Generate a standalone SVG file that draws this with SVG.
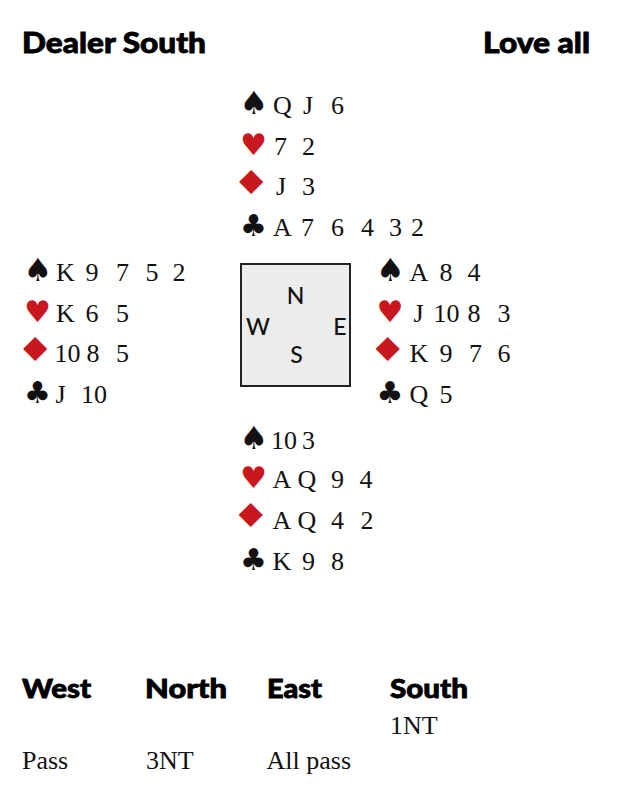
<svg xmlns="http://www.w3.org/2000/svg" width="619" height="803" viewBox="0 0 619 803">
<style>
.hd{font-family:"Lato","DejaVu Sans",sans-serif;font-weight:900;fill:#000;stroke:#000;stroke-width:0.8}
.cd{font-family:"Liberation Serif","Times New Roman",serif;font-size:26px;fill:#111}
.su{font-family:"DejaVu Sans",sans-serif;font-size:30px}
.sp{font-size:32px}
.dm{font-size:33px}
.blk{fill:#111}
.red{fill:#c8171e}
.cp{font-family:"Lato","DejaVu Sans",sans-serif;font-size:23px;font-weight:500;fill:#111;text-anchor:middle}
</style>
<rect width="619" height="803" fill="#fff"/>
<g id="header">
<text class="hd" x="22" y="53" font-size="28" textLength="184" lengthAdjust="spacingAndGlyphs">Dealer South</text>
<text class="hd" x="483" y="53" font-size="28" textLength="107" lengthAdjust="spacingAndGlyphs">Love all</text>
</g>
<g id="north">
<text class="su sp blk" x="239.5" y="114">♠</text>
<text class="su red" x="240" y="154.5">♥</text>
<text class="su dm red" transform="translate(232,194) scale(1.3,1)">♦</text>
<text class="su blk" x="240" y="236">♣</text>
<text class="cd" y="114"><tspan x="273">Q</tspan><tspan x="303">J</tspan><tspan x="331">6</tspan></text>
<text class="cd" y="154.5"><tspan x="274">7</tspan><tspan x="302">2</tspan></text>
<text class="cd" y="195"><tspan x="276">J</tspan><tspan x="302">3</tspan></text>
<text class="cd" y="236"><tspan x="273">A</tspan><tspan x="301">7</tspan><tspan x="331">6</tspan><tspan x="361">4</tspan><tspan x="389">3</tspan><tspan x="411">2</tspan></text>
</g>
<g id="west">
<text class="su sp blk" x="23.5" y="281">♠</text>
<text class="su red" x="24" y="322">♥</text>
<text class="su dm red" transform="translate(16,361) scale(1.3,1)">♦</text>
<text class="su blk" x="24" y="403">♣</text>
<text class="cd" y="281"><tspan x="56">K</tspan><tspan x="85.5">9</tspan><tspan x="116">7</tspan><tspan x="145.5">5</tspan><tspan x="172.5">2</tspan></text>
<text class="cd" y="322"><tspan x="56">K</tspan><tspan x="85.5">6</tspan><tspan x="116">5</tspan></text>
<text class="cd" y="362"><tspan x="54.5">10</tspan><tspan x="86.5">8</tspan><tspan x="116">5</tspan></text>
<text class="cd" y="403"><tspan x="55.5">J</tspan><tspan x="81">10</tspan></text>
</g>
<g id="compass">
<rect x="241" y="264" width="109" height="122" fill="#ececec" stroke="#222" stroke-width="2"/>
<text class="cp" x="295.5" y="304">N</text>
<text class="cp" x="258" y="335">W</text>
<text class="cp" x="340" y="335">E</text>
<text class="cp" x="296.5" y="363">S</text>
</g>
<g id="east">
<text class="su sp blk" x="376" y="281">♠</text>
<text class="su red" x="376.5" y="322">♥</text>
<text class="su dm red" transform="translate(368.5,361) scale(1.3,1)">♦</text>
<text class="su blk" x="376.5" y="403">♣</text>
<text class="cd" y="281"><tspan x="409.5">A</tspan><tspan x="439.5">8</tspan><tspan x="467.5">4</tspan></text>
<text class="cd" y="322"><tspan x="413.5">J</tspan><tspan x="433.5">10</tspan><tspan x="467.5">8</tspan><tspan x="497.5">3</tspan></text>
<text class="cd" y="362"><tspan x="409.5">K</tspan><tspan x="439.5">9</tspan><tspan x="469">7</tspan><tspan x="497.5">6</tspan></text>
<text class="cd" y="403"><tspan x="409.5">Q</tspan><tspan x="439.5">5</tspan></text>
</g>
<g id="south">
<text class="su sp blk" x="239.5" y="448.5">♠</text>
<text class="su red" x="240" y="488">♥</text>
<text class="su dm red" transform="translate(231.5,527) scale(1.3,1)">♦</text>
<text class="su blk" x="240" y="570">♣</text>
<text class="cd" y="448.5"><tspan x="271">10</tspan><tspan x="302">3</tspan></text>
<text class="cd" y="488"><tspan x="272.5">A</tspan><tspan x="297.5">Q</tspan><tspan x="331">9</tspan><tspan x="359.5">4</tspan></text>
<text class="cd" y="528.5"><tspan x="272.5">A</tspan><tspan x="297.5">Q</tspan><tspan x="331">4</tspan><tspan x="360.5">2</tspan></text>
<text class="cd" y="570"><tspan x="272.5">K</tspan><tspan x="302">9</tspan><tspan x="331">8</tspan></text>
</g>
<g id="bidding">
<text class="hd" x="22" y="698" font-size="26" textLength="69" lengthAdjust="spacingAndGlyphs">West</text>
<text class="hd" x="145" y="698" font-size="26" textLength="82" lengthAdjust="spacingAndGlyphs">North</text>
<text class="hd" x="267" y="698" font-size="26" textLength="55" lengthAdjust="spacingAndGlyphs">East</text>
<text class="hd" x="390" y="698" font-size="26" textLength="78" lengthAdjust="spacingAndGlyphs">South</text>
<text class="cd" x="390" y="734">1NT</text>
<text class="cd" x="22" y="769">Pass</text>
<text class="cd" x="146" y="769">3NT</text>
<text class="cd" x="266.5" y="769">All pass</text>
</g>
</svg>
